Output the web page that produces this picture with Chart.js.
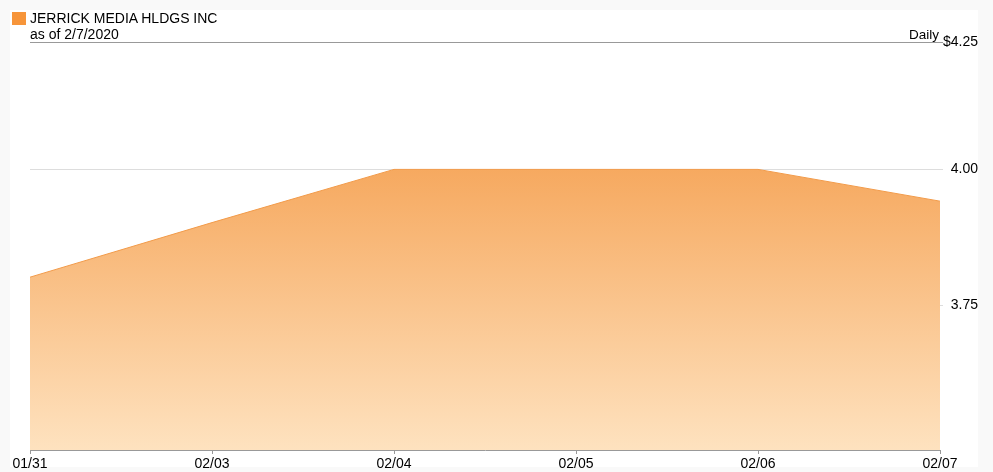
<!DOCTYPE html>
<html>
<head>
<meta charset="utf-8">
<script src="https://cdn.jsdelivr.net/npm/chart.js@4/dist/chart.umd.min.js"></script>
<style>
  html, body { margin: 0; padding: 0; background: #f9f9f9; }
  #wrap { position: relative; width: 993px; height: 472px; overflow: hidden; }
  #panel { position: absolute; left: 10px; top: 10px; width: 968px; height: 457px; background: #fff; }
  canvas { position: absolute; left: 0; top: 0; }
  .txt { position: absolute; font-family: "Liberation Sans", Arial, sans-serif; font-size: 14px; color: #000; white-space: nowrap; }
  #swatch { position: absolute; left: 12px; top: 12px; width: 14px; height: 13px; background: #f7953a; }
</style>
</head>
<body>
<div id="wrap">
  <div id="panel"></div>
  <canvas id="chart" width="993" height="472"></canvas>
  <div id="swatch"></div>
  <div class="txt" style="left:30px; top:10px;">JERRICK MEDIA HLDGS INC</div>
  <div class="txt" style="left:30px; top:26px;">as of 2/7/2020</div>
  <div class="txt" style="left:909px; top:27px; font-size:13.5px;">Daily</div>
</div>
<script>
const dates = ['01/31', '02/03', '02/04', '02/05', '02/06', '02/07'];
const closes = [3.80, 3.90, 4.00, 4.00, 4.00, 3.94];
const yTicks = [3.75, 4.00, 4.25];
const yMin = 3.5;
const yMax = 4.25;

const ctx = document.getElementById('chart').getContext('2d');

const myChart = new Chart(ctx, {
  type: 'line',
  data: {
    labels: dates,
    datasets: [{
      data: closes,
      borderColor: '#f29b4a',
      borderWidth: 1,
      pointRadius: 0,
      tension: 0,
      fill: 'start',
      backgroundColor: (c) => {
        const area = c.chart.chartArea;
        if (!area) return '#f7b06a';
        const g = c.chart.ctx.createLinearGradient(0, area.top, 0, area.bottom);
        g.addColorStop(0, '#f39a45');
        g.addColorStop(0.3, '#f6a85e');
        g.addColorStop(1, '#fee2bf');
        return g;
      }
    }]
  },
  options: {
    responsive: false,
    animation: false,
    layout: { padding: { left: 30, right: 15, top: 42, bottom: 0 } },
    plugins: { legend: { display: false }, tooltip: { enabled: false } },
    scales: {
      x: {
        offset: false,
        grid: { drawOnChartArea: false, tickLength: 4, color: '#999' },
        border: { color: '#999' },
        ticks: { maxRotation: 0, autoSkip: false, padding: 2, color: '#000',
                 font: { family: 'Liberation Sans, Arial', size: 14 } },
        afterFit: (s) => { s.height = 22; }
      },
      y: {
        type: 'logarithmic',
        position: 'right',
        min: yMin,
        max: yMax,
        afterBuildTicks: (s) => { s.ticks = yTicks.map(v => ({ value: v })); },
        afterFit: (s) => { s.width = 38; },
        border: { display: false },
        grid: {
          tickLength: 3,
          color: (c) => c.tick && c.tick.value === yMax ? '#999' : '#ddd'
        },
        ticks: {
          crossAlign: 'far',
          padding: 6,
          color: '#000',
          font: { family: 'Liberation Sans, Arial', size: 14 },
          callback: (v) => v === yMax ? '$' + v.toFixed(2) : v.toFixed(2)
        }
      }
    }
  }
});
</script>
</body>
</html>
